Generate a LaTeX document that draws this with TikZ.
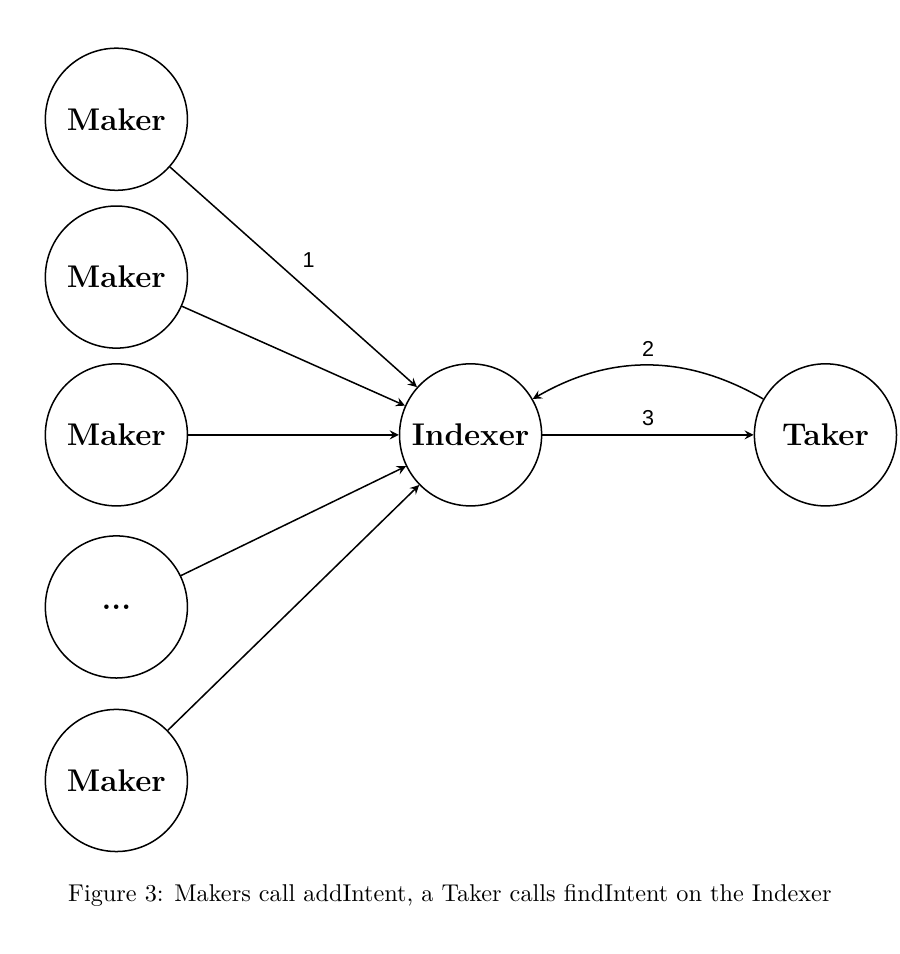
\documentclass[tikz,border=0pt]{standalone}
\usepackage{fontspec}
\newfontfamily\lblfont{Liberation Sans}
\usetikzlibrary{arrows}
\tikzset{
  party/.style={draw,semithick,circle,minimum size=1.99cm,inner sep=0pt,font=\fontsize{12.5pt}{15pt}\selectfont\bfseries},
  call/.style={->,>=stealth,semithick},
  lbl/.style={font=\lblfont\fontsize{8.6pt}{10pt}\selectfont}
}
\begin{document}
\begin{tikzpicture}
\useasboundingbox (-6.59cm,-7.27cm) rectangle (6.01cm,6.09cm);
%indexer and taker
\node[party] (idx) at (0,0) {Indexer};
\node[party] (tkr) at (4.97cm,0) {Taker};
%makers
\node[party] (m1) at (-4.96cm,4.42cm) {Maker};
\node[party] (m2) at (-4.96cm,2.21cm) {Maker};
\node[party] (m3) at (-4.96cm,0) {Maker};
\node[party] (m4) at (-4.96cm,-2.41cm) {...};
\node[party] (m5) at (-4.96cm,-4.84cm) {Maker};
%addIntent
\draw[call] (m1) -- node [lbl,above right,pos=0.5] {1} (idx);
\draw[call] (m2) -- (idx);
\draw[call] (m3) -- (idx);
\draw[call] (m4) -- (idx);
\draw[call] (m5) -- (idx);
%findIntent
\draw[call] (tkr) to[bend right=30] node [lbl,above] {2} (idx);
\draw[call] (idx) -- node [lbl,above] {3} (tkr);
%caption
\node[font=\fontsize{9.67pt}{12pt}\selectfont] (cap) at (-0.29cm,-6.45cm) {Figure 3: Makers call addIntent, a Taker calls findIntent on the Indexer};
\end{tikzpicture}
\end{document}
